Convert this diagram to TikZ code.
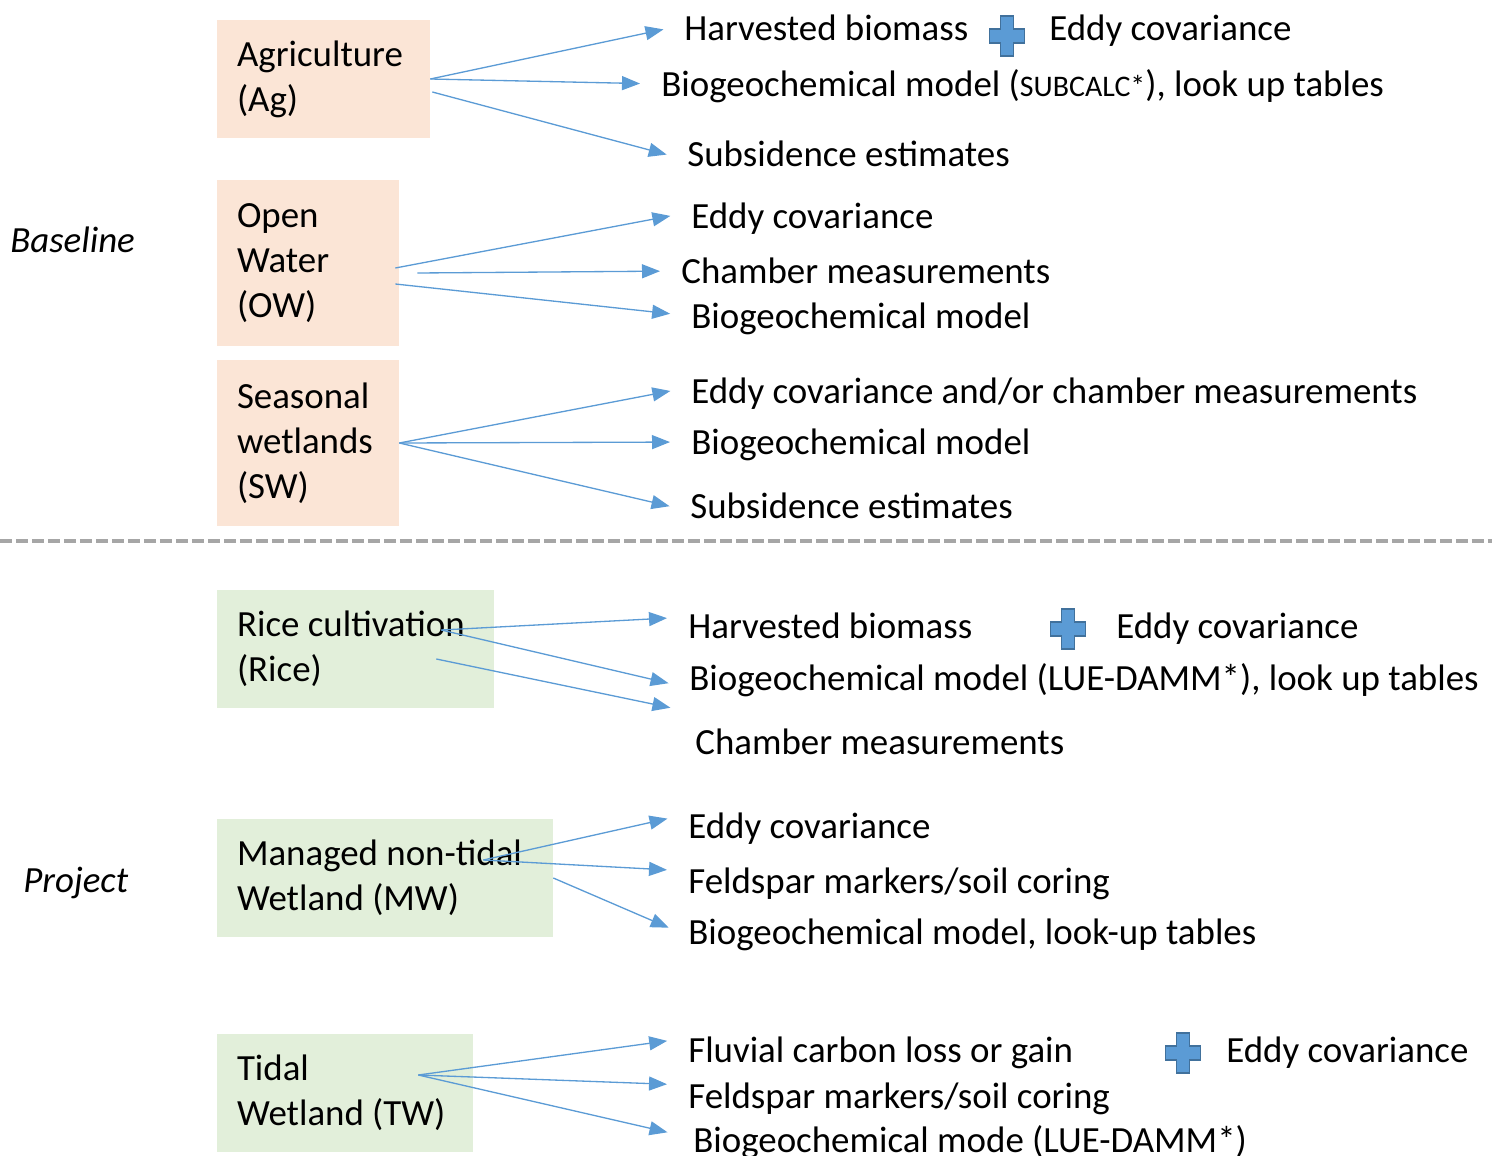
\documentclass[tikz,border=0pt]{standalone}
\usepackage{fontspec}
\setmainfont{Carlito}
\usetikzlibrary{positioning,calc,arrows.meta}
\definecolor{peach}{HTML}{FBE5D6}
\definecolor{sage}{HTML}{E2EFDA}
\definecolor{arrblue}{HTML}{5B9BD5}
\definecolor{plusedge}{HTML}{41719C}
\definecolor{divgray}{HTML}{A6A6A6}
\newcommand{\txtfont}{\fontsize{21}{25.6}\selectfont}
\tikzset{
  basebox/.style = {fill=peach, inner xsep=0.4cm, inner ysep=0pt, align=flush left,
                    font=\txtfont, minimum height=2.36cm},
  projbox/.style = {basebox, fill=sage},
  txt/.style     = {anchor=west, inner sep=0pt, font=\txtfont,
                    text height=14pt, text depth=0pt},
  side/.style    = {txt, font=\txtfont\itshape},
  arr/.style     = {draw=arrblue, line width=0.75pt, shorten >=0.42cm,
                    -{Triangle[length=0.36cm,width=0.28cm]}},
  divider/.style = {draw=divgray, line width=0.08cm,
                    dash pattern=on 0.24cm off 0.08cm},
  plusicon/.pic  = {\draw[fill=arrblue, draw=plusedge, line width=0.9pt]
      (-6.5,-20) -- (6.5,-20) -- (6.5,-7) -- (17.5,-7) -- (17.5,7) -- (6.5,7)
      -- (6.5,20) -- (-6.5,20) -- (-6.5,7) -- (-17.5,7) -- (-17.5,-7)
      -- (-6.5,-7) -- cycle;},
}

\begin{document}
\begin{tikzpicture}[x=0.02cm, y=-0.02cm]
  \useasboundingbox (0,0) rectangle (1492,1156);
  % baseline
  \node[basebox, text width=3.46cm] (ag) at (323.5,79) {Agriculture\\(Ag)};
  \node[basebox, text width=2.84cm, minimum height=3.32cm] (ow) at (308,263)
    {Open\\Water\\(OW)};
  \node[basebox, text width=2.84cm, minimum height=3.32cm] (sw) at (308,443)
    {Seasonal\\wetlands\\(SW)};
  \node[side] (base) at (10,240) {Baseline};
  \node[txt] (ag1) at (684,28) {Harvested biomass};
  \pic at (1007,36) {plusicon};
  \node[txt] (agEddy) at (1049,28) {Eddy covariance};
  \node[txt] (ag2) at (661,84)
    {Biogeochemical model ({\fontsize{17}{20}\selectfont SUBCALC*}), look up tables};
  \node[txt] (ag3) at (687,154) {Subsidence estimates};
  \node[txt] (ow1) at (691,216) {Eddy covariance};
  \node[txt] (ow2) at (681,271) {Chamber measurements};
  \node[txt] (ow3) at (691,316) {Biogeochemical model};
  \node[txt] (sw1) at (691,391) {Eddy covariance and/or chamber measurements};
  \node[txt] (sw2) at (691,442) {Biogeochemical model};
  \node[txt] (sw3) at (690,506) {Subsidence estimates};
  \draw[arr] (ag.east) -- ($(ag1.west)+(0,-3)$);
  \draw[arr] (ag.east) -- (ag2.west);
  \draw[arr] ($(ag.east)+(2,13)$) -- ($(ag3.west)+(0,6)$);
  \draw[arr] ($(ow.east)+(-4,5)$) -- ($(ow1.west)+(0,-4)$);
  \draw[arr] ($(ow.east)+(18,10)$) -- (ow2.west);
  \draw[arr] ($(ow.east)+(-4,21)$) -- (ow3.west);
  \draw[arr] (sw.east) -- ($(sw1.west)+(0,-4)$);
  \draw[arr] (sw.east) -- (sw2.west);
  \draw[arr] (sw.east) -- ($(sw3.west)+(0,5)$);
  % divider
  \coordinate (divL) at (0,541);
  \coordinate (divR) at (1492,541);
  \draw[divider] (divL) -- (divR);
  % project
  \node[projbox, text width=4.74cm] (rice) at (355.5,649) {Rice cultivation\\(Rice)};
  \node[projbox, text width=5.92cm] (mw) at (385,878) {Managed non-tidal\\Wetland (MW)};
  \node[projbox, text width=4.32cm] (tw) at (345,1093) {Tidal\\Wetland (TW)};
  \node[side] (proj) at (23,880) {Project};
  \node[txt] (rice1) at (688,626) {Harvested biomass};
  \pic at (1068,629) {plusicon};
  \node[txt] (riceEddy) at (1116,626) {Eddy covariance};
  \node[txt] (rice2) at (689,678) {Biogeochemical model (LUE-DAMM*), look up tables};
  \node[txt] (rice3) at (695,742) {Chamber measurements};
  \coordinate (riceEnd) at (691,712);
  \node[txt] (mw1) at (688,826) {Eddy covariance};
  \node[txt] (mw2) at (688,881) {Feldspar markers/soil coring};
  \node[txt] (mw3) at (688,932) {Biogeochemical model, look-up tables};
  \node[txt] (tw1) at (688,1050) {Fluvial carbon loss or gain};
  \pic at (1183,1053) {plusicon};
  \node[txt] (twEddy) at (1226,1050) {Eddy covariance};
  \node[txt] (tw2) at (688,1096) {Feldspar markers/soil coring};
  \node[txt] (tw3) at (693,1140) {Biogeochemical mode (LUE-DAMM*)};
  \draw[arr] ($(rice.east)+(-53,-19)$) -- ($(rice1.west)+(0,-9)$);
  \draw[arr] ($(rice.east)+(-53,-19)$) -- ($(rice2.west)+(0,10)$);
  \draw[arr] ($(rice.east)+(-58,10)$) -- (riceEnd);
  \draw[arr] ($(mw.east)+(-70,-18)$) -- ($(mw1.west)+(0,-12)$);
  \draw[arr] ($(mw.east)+(-70,-18)$) -- ($(mw2.west)+(0,-10)$);
  \draw[arr] (mw.east) -- ($(mw3.west)+(0,4)$);
  \draw[arr] ($(tw.east)+(-55,-18)$) -- ($(tw1.west)+(0,-12)$);
  \draw[arr] ($(tw.east)+(-55,-18)$) -- ($(tw2.west)+(0,-11)$);
  \draw[arr] ($(tw.east)+(-55,-18)$) -- ($(tw3.west)+(-5,-3)$);
\end{tikzpicture}
\end{document}
